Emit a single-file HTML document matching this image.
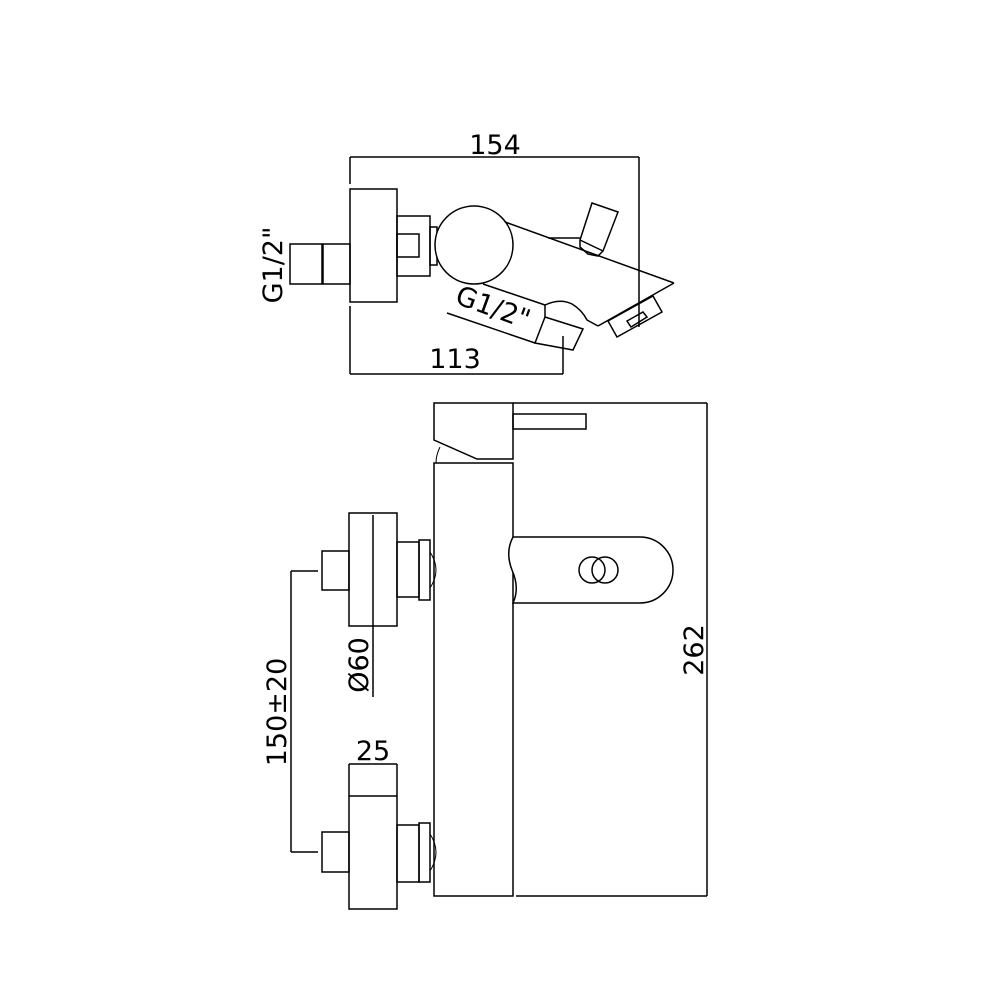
<!DOCTYPE html>
<html><head><meta charset="utf-8"><style>html,body{margin:0;padding:0;background:#fff}svg{display:block}</style></head>
<body>
<svg width="1000" height="1000" viewBox="0 0 1000 1000" xmlns="http://www.w3.org/2000/svg" font-family="DejaVu Sans, sans-serif" fill="none" stroke="#000" stroke-width="1.5">
<!-- TOP VIEW -->
<line x1="350" y1="157" x2="639" y2="157"/>
<line x1="350" y1="157" x2="350" y2="184"/>
<line x1="639" y1="157" x2="639" y2="327"/>
<text x="495" y="154" font-size="27" fill="#000" stroke="none" text-anchor="middle">154</text>
<rect x="350" y="189" width="47" height="113"/>
<rect x="290" y="244" width="32" height="40"/>
<rect x="323" y="244" width="27" height="40"/>
<rect x="397" y="216" width="33" height="60"/>
<rect x="397" y="234" width="22" height="23"/>
<rect x="430" y="227" width="7" height="38"/>
<circle cx="474" cy="245" r="39" fill="#fff"/>
<line x1="505" y1="222" x2="674" y2="283"/>
<line x1="674" y1="283" x2="598" y2="326"/>
<line x1="483" y1="284" x2="545" y2="305"/>
<path d="M545 305 Q560 298 572 304 Q582 310 587 320 L598 326"/>
<polygon points="545,317 583,329 573,350 535,343"/>
<line x1="545" y1="305" x2="545" y2="317"/>
<line x1="563" y1="336" x2="563" y2="374"/>
<path d="M592 203 L618 212 L603 251 L598 256 L588 254 L580 247 L580 240 Z"/>
<line x1="580" y1="240" x2="603" y2="251"/>
<line x1="548" y1="238" x2="580" y2="238"/>
<polygon points="608,321 653,296 662,312 617,337"/>
<polygon points="627,321 643,312 647,317 631,327"/>
<line x1="447" y1="313" x2="535" y2="343"/>
<text x="490" y="316" font-size="27" fill="#000" stroke="none" text-anchor="middle" transform="rotate(20 490 316)">G1/2"</text>
<text x="0" y="0" font-size="27" fill="#000" stroke="none" text-anchor="middle" transform="translate(282 265) rotate(-90)">G1/2"</text>
<line x1="350" y1="306" x2="350" y2="374"/>
<line x1="350" y1="374" x2="563" y2="374"/>
<text x="455" y="368" font-size="27" fill="#000" stroke="none" text-anchor="middle">113</text>
<!-- SIDE VIEW -->
<line x1="513" y1="403" x2="707" y2="403"/>
<line x1="707" y1="403" x2="707" y2="896"/>
<line x1="516" y1="896" x2="707" y2="896"/>
<text x="0" y="0" font-size="27" fill="#000" stroke="none" text-anchor="middle" transform="translate(703 650) rotate(-90)">262</text>
<path d="M434 403 L513 403 L513 459 L477 459 L434 440 Z"/>
<path d="M440 447 Q436 455 436 463" stroke-width="1"/>
<rect x="513" y="414" width="73" height="15"/>
<rect x="434" y="463" width="79" height="433"/>
<path d="M513 537 L640 537 A33 33 0 0 1 640 603 L513 603 Q520 588 512 570 Q505 552 513 537 Z" fill="#fff"/>
<circle cx="592" cy="570" r="13"/>
<circle cx="605" cy="570" r="13"/>
<!-- upper wall -->
<rect x="349" y="513" width="48" height="113"/>
<line x1="373" y1="515" x2="373" y2="697"/>
<rect x="322" y="551" width="27" height="39"/>
<rect x="397" y="542" width="22" height="55"/>
<rect x="419" y="540" width="11" height="60"/>
<path d="M430 552 Q442 570 430 588" stroke-width="1"/>
<text x="0" y="0" font-size="27" fill="#000" stroke="none" text-anchor="middle" transform="translate(368 665) rotate(-90)">Ø60</text>
<!-- lower wall -->
<rect x="349" y="796" width="48" height="113"/>
<rect x="322" y="832" width="27" height="40"/>
<rect x="397" y="825" width="22" height="57"/>
<rect x="419" y="823" width="11" height="59"/>
<path d="M430 834 Q442 852 430 871" stroke-width="1"/>
<line x1="349" y1="764" x2="397" y2="764"/>
<line x1="349" y1="764" x2="349" y2="796"/>
<line x1="397" y1="764" x2="397" y2="796"/>
<text x="373" y="760" font-size="27" fill="#000" stroke="none" text-anchor="middle">25</text>
<!-- 150±20 -->
<line x1="291" y1="571" x2="318" y2="571"/>
<line x1="291" y1="571" x2="291" y2="852"/>
<line x1="291" y1="852" x2="318" y2="852"/>
<text x="0" y="0" font-size="27" fill="#000" stroke="none" text-anchor="middle" transform="translate(286 712) rotate(-90)">150±20</text>
</svg>
</body></html>
